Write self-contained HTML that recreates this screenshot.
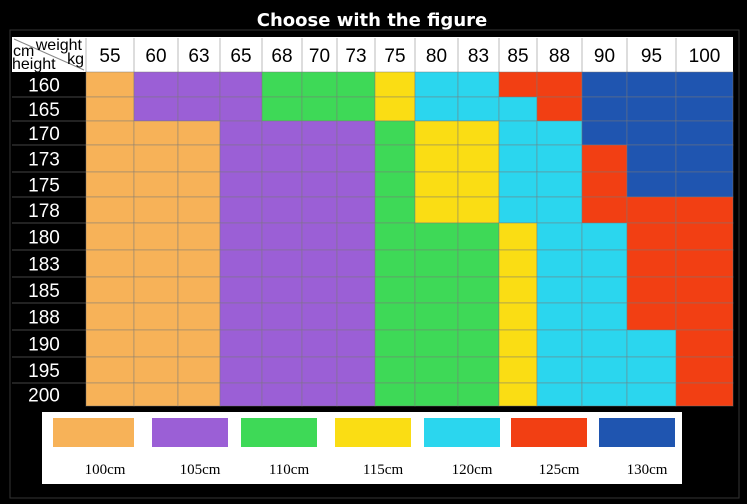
<!DOCTYPE html>
<html><head><meta charset="utf-8"><style>
html,body{margin:0;padding:0;background:#000;}
svg{display:block;}
</style></head><body>
<svg id="c" width="747" height="504" xmlns="http://www.w3.org/2000/svg">
<rect x="0" y="0" width="747" height="504" fill="#000"/>
<rect x="10" y="30" width="729" height="468" fill="none" stroke="#333" stroke-width="1"/>
<text x="372" y="26" text-anchor="middle" fill="#fff" font-family="'DejaVu Sans','Liberation Sans',sans-serif" font-weight="bold" font-size="18">Choose with the figure</text>
<g id="grid"></g>
<g id="legend"></g>
</svg>
<script>
const weights = ["55","60","63","65","68","70","73","75","80","83","85","88","90","95","100"];
const heights = ["160","165","170","173","175","178","180","183","185","188","190","195","200"];
const sizes = ["100cm","105cm","110cm","115cm","120cm","125cm","130cm"];
const sizeColors = ["#f7b258","#9b5fd6","#3ed957","#fadd14","#2bd6ee","#f23f13","#1f55b0"];
// size index per cell (rows = heights, cols = weights)
const cells = [
 [0,1,1,1,2,2,2,3,4,4,5,5,6,6,6],
 [0,1,1,1,2,2,2,3,4,4,4,5,6,6,6],
 [0,0,0,1,1,1,1,2,3,3,4,4,6,6,6],
 [0,0,0,1,1,1,1,2,3,3,4,4,5,6,6],
 [0,0,0,1,1,1,1,2,3,3,4,4,5,6,6],
 [0,0,0,1,1,1,1,2,3,3,4,4,5,5,5],
 [0,0,0,1,1,1,1,2,2,2,3,4,4,5,5],
 [0,0,0,1,1,1,1,2,2,2,3,4,4,5,5],
 [0,0,0,1,1,1,1,2,2,2,3,4,4,5,5],
 [0,0,0,1,1,1,1,2,2,2,3,4,4,5,5],
 [0,0,0,1,1,1,1,2,2,2,3,4,4,4,5],
 [0,0,0,1,1,1,1,2,2,2,3,4,4,4,5],
 [0,0,0,1,1,1,1,2,2,2,3,4,4,4,5]
];
const colEdges=[86,134,178,220,262,302,337,375,415,458,499,537,582,627,676,733];
const rowEdges=[72,97,121,145,172,197,223,250,277,303,330,357,383,406];
const NS="http://www.w3.org/2000/svg";
function mk(t,a,p){const e=document.createElementNS(NS,t);for(const k in a)e.setAttribute(k,a[k]);p.appendChild(e);return e;}
const g=document.getElementById('grid');
const F="'Liberation Sans',Arial,sans-serif";
const hb=mk('rect',{x:12,y:37,width:721,height:35,fill:'#fff'},g);


const corner=mk('line',{x1:14,y1:39,x2:84,y2:70,stroke:'#888','stroke-width':1},g);


[["weight",82,50,"end","weight-unit-label"],["kg",84,64,"end","kg-label"],["cm",13,56,"start","cm-label"],["height",12,69,"start","height-label"]].forEach(d=>{
 const t=mk('text',{x:d[1],y:d[2],'text-anchor':d[3],'font-family':F,'font-size':16,fill:'#000'},g);t.textContent=d[0];
 
 
});
weights.forEach((w,i)=>{
 const x0=colEdges[i],x1=colEdges[i+1];
 const t=mk('text',{x:(x0+x1)/2,y:62,'text-anchor':'middle','font-family':F,'font-size':19,fill:'#000'},g);t.textContent=w;
 
 
 const l=mk('line',{x1:x0,y1:38,x2:x0,y2:72,stroke:'#bbb','stroke-width':1},g);
 
 
});
heights.forEach((h,r)=>{
 const y0=rowEdges[r],y1=rowEdges[r+1];
 const t=mk('text',{x:44,y:(y0+y1)/2+7,'text-anchor':'middle','font-family':F,'font-size':19,fill:'#fff'},g);t.textContent=h;
 
 
 if(r>0){const l=mk('line',{x1:12,y1:y0,x2:86,y2:y0,stroke:'#444','stroke-width':1},g);
 
 }
 weights.forEach((w,c)=>{
  const x0=colEdges[c],x1=colEdges[c+1];
  const cell=mk('rect',{x:x0,y:y0,width:x1-x0,height:y1-y0,fill:sizeColors[cells[r][c]],stroke:'rgba(120,120,120,0.45)','stroke-width':1},g);
  
  
 });
});
const lg=document.getElementById('legend');
const lb=mk('rect',{x:42,y:412,width:640,height:72,fill:'#fff'},lg);


const swX=[53,152,241,335,424,511,599];
sizes.forEach((s,i)=>{
 const r=mk('rect',{x:swX[i],y:418,width:i==0?81:76,height:29,fill:sizeColors[i]},lg);
 
 
 const t=mk('text',{x:swX[i]+(i==0?52:48),y:474,'text-anchor':'middle','font-family':"'Liberation Serif',serif",'font-size':15,fill:'#000'},lg);t.textContent=s;
 
 
});
</script>
</body></html>
